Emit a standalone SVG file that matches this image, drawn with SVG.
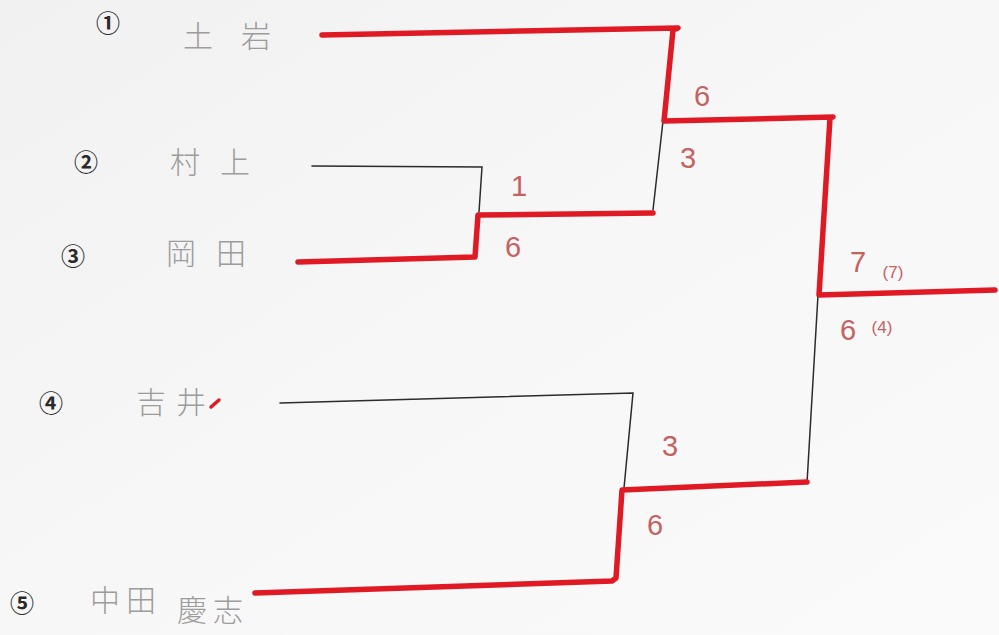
<svg xmlns="http://www.w3.org/2000/svg" width="999" height="635" viewBox="0 0 999 635">
<defs>
<linearGradient id="bg" x1="0" y1="0" x2="1" y2="1">
<stop offset="0" stop-color="#f1f1f1"/>
<stop offset="0.5" stop-color="#f7f7f7"/>
<stop offset="1" stop-color="#fafafa"/>
</linearGradient>
</defs>
<style>
.num{font-family:"Noto Sans CJK JP","DejaVu Sans",sans-serif;font-weight:700;font-size:24px;fill:#2a2a2a;text-anchor:middle;dominant-baseline:central}
.name{font-family:"Noto Sans CJK JP",sans-serif;font-weight:300;font-size:30px;fill:#9c9c9c;dominant-baseline:central}
.red{fill:none;stroke:#e01a24;stroke-width:5.5;stroke-linecap:round;stroke-linejoin:round}
.blk{fill:none;stroke:#2b2b2b;stroke-width:1.5;stroke-linecap:round}
.score{font-family:"Liberation Sans",sans-serif;font-size:29px;fill:#c46262;text-anchor:middle;dominant-baseline:central}
.sub{font-family:"Liberation Sans",sans-serif;font-size:17px;fill:#c46262;text-anchor:middle;dominant-baseline:central}
</style>
<rect width="999" height="635" fill="url(#bg)"/>
<g id="player1">
<text class="num" x="108" y="21">①</text>
<text class="name" x="183" y="34" textLength="88" lengthAdjust="spacing">土岩</text>
</g>
<g id="player2">
<text class="num" x="86" y="160">②</text>
<text class="name" x="170" y="160" textLength="80" lengthAdjust="spacing">村上</text>
</g>
<g id="player3">
<text class="num" x="73" y="254">③</text>
<text class="name" x="166" y="251" textLength="80" lengthAdjust="spacing">岡田</text>
</g>
<g id="player4">
<text class="num" x="51" y="401">④</text>
<text class="name" x="136" y="400" textLength="70" lengthAdjust="spacing">吉井</text>
<path d="M211,407 L219,400" stroke="#e01a24" stroke-width="3.5" stroke-linecap="round"/>
</g>
<g id="player5">
<text class="num" x="22" y="601">⑤</text>
<text class="name" x="90" y="598" textLength="66" lengthAdjust="spacing">中田</text>
<text class="name" x="177" y="608" font-size="24" textLength="66" lengthAdjust="spacing">慶志</text>
</g>
<g id="connectors">
<path class="blk" d="M312,166 L482,167 L479,212"/>
<path class="blk" d="M663,121 L653,210"/>
<path class="blk" d="M280,403 L633,393 L624,488"/>
<path class="blk" d="M818,295 L807,483"/>
<path class="red" d="M322,35 L678,28 L673,30 L664,121 L833,117 L830,118 L819,295 L995,290"/>
<path class="red" d="M298,262 L475,257 L478,215 L653,213"/>
<path class="red" d="M255,593 L612,581 L616,578 L622,490 L807,482"/>
</g>
<g id="scores">
<text class="score" x="702" y="96">6</text>
<text class="score" x="688" y="158">3</text>
<text class="score" x="519" y="186">1</text>
<text class="score" x="513" y="247">6</text>
<text class="score" x="858" y="262">7</text>
<text class="sub" x="893" y="272">(7)</text>
<text class="score" x="848" y="330">6</text>
<text class="sub" x="882" y="327">(4)</text>
<text class="score" x="670" y="446">3</text>
<text class="score" x="655" y="525">6</text>
</g>
</svg>
